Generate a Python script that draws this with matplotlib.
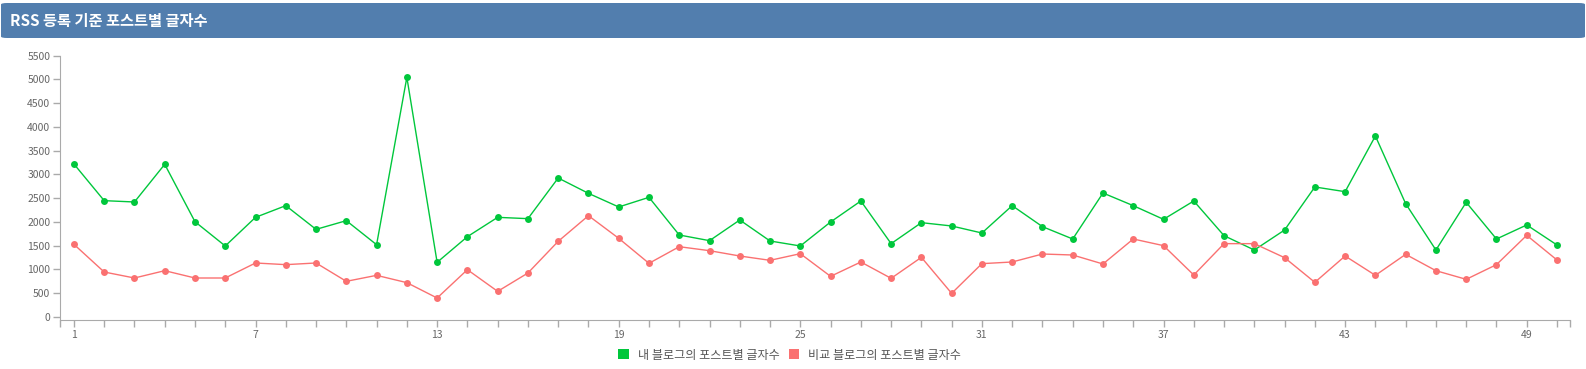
import matplotlib
matplotlib.use("Agg")
import matplotlib.pyplot as plt
from matplotlib.patches import FancyBboxPatch, Patch
from matplotlib.ticker import MultipleLocator, FixedLocator

plt.rcParams['font.family'] = ['Noto Sans CJK KR', 'DejaVu Sans']

title = "RSS 등록 기준 포스트별 글자수"
series_names = ["내 블로그의 포스트별 글자수", "비교 블로그의 포스트별 글자수"]
posts = list(range(1, 51))
my_counts = [3221, 2449, 2421, 3214, 2006, 1495, 2098, 2344, 1845, 2028,
             1522, 5045, 1151, 1691, 2098, 2070, 2926, 2603, 2316, 2519,
             1726, 1607, 2042, 1600, 1495, 2000, 2442, 1544, 1986, 1916,
             1768, 2344, 1902, 1642, 2610, 2344, 2056, 2442, 1712, 1410,
             1831, 2737, 2638, 3810, 2386, 1410, 2414, 1642, 1937, 1516]
other_counts = [1530, 947, 821, 975, 821, 821, 1137, 1102, 1137, 751,
                877, 723, 400, 996, 540, 926, 1593, 2133, 1656, 1130,
                1480, 1396, 1284, 1193, 1333, 856, 1158, 814, 1256, 498,
                1123, 1158, 1326, 1305, 1116, 1642, 1502, 884, 1544, 1544,
                1249, 730, 1284, 877, 1319, 975, 793, 1102, 1719, 1200]
x_labels = [1, 7, 13, 19, 25, 31, 37, 43, 49]
colors = ["#00c73c", "#fa7171"]

W, H = 1586, 369
fig = plt.figure(figsize=(W / 100, H / 100), dpi=100)

# header bar
bar = FancyBboxPatch((1 / W, 1 - 38 / H), (W - 2) / W, 35 / H,
                     boxstyle="round,pad=0,rounding_size=0.004",
                     transform=fig.transFigure, facecolor="#527eae",
                     edgecolor="none")
fig.patches.append(bar)
fig.text(10 / W, 1 - 21 / H, title, color="white", fontsize=11,
         fontweight="bold", va="center", ha="left")

ax = fig.add_axes([60 / W, 1 - 320 / H, (1570 - 60) / W, (320 - 55.7) / H])
for vals, c, name in zip([my_counts, other_counts], colors, series_names):
    ax.plot(posts, vals, color=c, lw=1.0, marker="o", markersize=5,
            markeredgewidth=0, label=name)

ax.set_xlim(0.54, 50.43)
ax.set_ylim(-63, 5500)
ax.yaxis.set_major_locator(MultipleLocator(500))
ax.xaxis.set_major_locator(FixedLocator(x_labels))
ax.xaxis.set_minor_locator(FixedLocator([p for p in posts if p not in x_labels] + [0.54, 50.43]))
ax.tick_params(axis="both", which="both", colors="#aaaaaa", labelcolor="#666666",
               labelsize=7.5, length=5, width=1)
ax.tick_params(axis="y", pad=2)
ax.tick_params(axis="x", pad=2)
for s in ["top", "right"]:
    ax.spines[s].set_visible(False)
for s in ["left", "bottom"]:
    ax.spines[s].set_color("#aaaaaa")

handles = [Patch(facecolor=c, edgecolor="none") for c in colors]
fig.legend(handles, series_names, loc="center", bbox_to_anchor=(0.498, 1 - 355 / H),
           ncol=2, frameon=False, fontsize=8.7, handlelength=0.85, handleheight=0.85,
           handletextpad=0.75, columnspacing=0.8, labelcolor="#555555")

fig.savefig("out.png", dpi=100)
